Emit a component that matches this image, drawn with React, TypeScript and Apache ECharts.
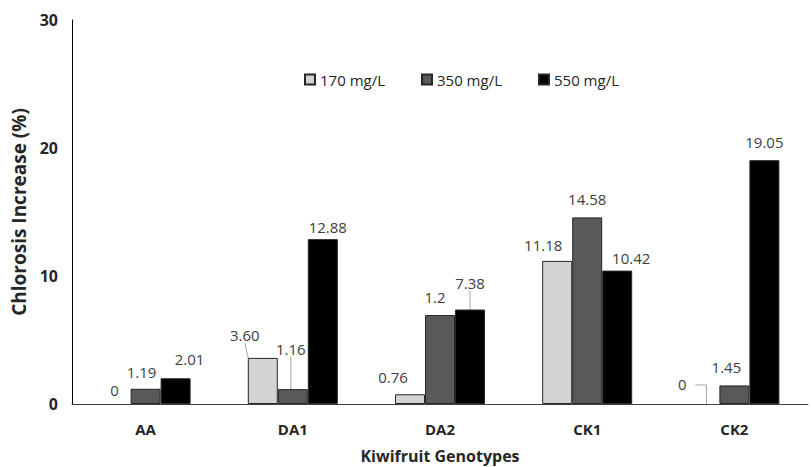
import React, { useEffect, useRef } from "react";
import * as echarts from "echarts";

const categories = ["AA", "DA1", "DA2", "CK1", "CK2"];
const seriesNames = ["170 mg/L", "350 mg/L", "550 mg/L"];
const values170 = [0, 3.6, 0.76, 11.18, 0];
const values350 = [1.19, 1.16, 6.95, 14.58, 1.45];
const values550 = [2.01, 12.88, 7.38, 10.42, 19.05];
const labels170 = ["0", "3.60", "0.76", "11.18", "0"];
const labels350 = ["1.19", "1.16", "1.2", "14.58", "1.45"];
const labels550 = ["2.01", "12.88", "7.38", "10.42", "19.05"];
const yTicks = [0, 10, 20, 30];

// label layout offsets [dx, dy, leaderLine]
const offsets: [number, number, boolean][][] = [
  [[-1, -2, false], [-18, -10, true], [-17, -5, false], [-14, -3, false], [-22, -8, false]],
  [[-4, -4, false], [-2, -28, true], [-5, -6, false], [0, -6, false], [-8, -6, false]],
  [[14, -7, false], [5, 0, false], [0, -14, true], [14, 0, false], [0, -6, false]],
];

const colors = ["#d4d4d4", "#595959", "#000000"];
const allValues = [values170, values350, values550];
const allLabels = [labels170, labels350, labels550];

export default function App() {
  const ref = useRef<HTMLDivElement>(null);
  useEffect(() => {
    if (!ref.current) return;
    const chart = echarts.init(ref.current, undefined, { renderer: "svg" });
    const font = "'Open Sans', 'Noto Sans', sans-serif";
    const barWidth = 30;
    const series = allValues.map((vals, si) => ({
      name: seriesNames[si],
      type: "bar",
      barWidth,
      barGap: "0%",
      itemStyle: { color: colors[si], borderColor: "#262626", borderWidth: 1 },
      label: {
        show: true,
        position: "top",
        distance: 5,
        color: "#404040",
        fontSize: 15,
        fontFamily: font,
        formatter: (p: any) => allLabels[si][p.dataIndex],
      },
      labelLine: { show: false },
      labelLayout: (p: any) => {
        const o = offsets[si][p.dataIndex];
        return { dx: o[0], dy: o[1] };
      },
      data: vals.map((v, di) => ({
        value: v,
        itemStyle: v === 0 ? { borderWidth: 0 } : undefined,
        labelLine: {
          show: offsets[si][di][2],
          length2: 0,
          lineStyle: { color: "#a6a6a6", width: 1 },
        },
      })),
    }));
    chart.setOption({
      animation: false,
      backgroundColor: "#ffffff",
      legend: {
        left: 299,
        top: 67,
        itemWidth: 10,
        itemHeight: 10,
        itemGap: 36,
        icon: "rect",
        textStyle: { fontSize: 15, color: "#262626", fontFamily: font },
        data: seriesNames,
      },
      grid: { left: 72, right: 3, top: 20, bottom: 63, outerBoundsMode: "none", containLabel: false },
      xAxis: {
        type: "category",
        data: categories,
        name: "Kiwifruit Genotypes",
        nameLocation: "middle",
        nameGap: 44,
        nameTextStyle: { fontSize: 16, fontWeight: "bold", color: "#262626", fontFamily: font },
        axisLine: { lineStyle: { color: "#404040", width: 1 } },
        axisTick: { show: false },
        axisLabel: { margin: 17, fontSize: 15, fontWeight: "bold", color: "#262626", fontFamily: font },
      },
      yAxis: {
        type: "value",
        min: yTicks[0],
        max: yTicks[yTicks.length - 1],
        interval: 10,
        name: "Chlorosis Increase (%)",
        nameLocation: "middle",
        nameGap: 44,
        nameTextStyle: { fontSize: 19, fontWeight: "bold", color: "#262626", fontFamily: font },
        axisLine: { show: true, lineStyle: { color: "#000000", width: 1 } },
        axisTick: { show: false },
        splitLine: { show: false },
        axisLabel: { margin: 14, fontSize: 16, fontWeight: "bold", color: "#262626", fontFamily: font },
      },
      series,
    });
    // leader line for the zero-height CK2 170 mg/L bar
    const zeroIdx = 4;
    const p = chart.convertToPixel({ seriesIndex: 0 }, [zeroIdx, values170[zeroIdx]]) as number[];
    if (p) {
      const barCx = p[0] - barWidth;
      const y0 = p[1];
      chart.setOption({
        graphic: [
          {
            type: "polyline",
            shape: { points: [[barCx - 9, y0 - 19], [barCx + 2, y0 - 19], [barCx + 2, y0]] },
            style: { stroke: "#a6a6a6", lineWidth: 1, fill: "none" },
            silent: true,
          },
        ],
      });
    }
    return () => chart.dispose();
  }, []);
  return (
    <div
      ref={ref}
      style={{ position: "fixed", left: 0, top: 0, width: 811, height: 467, background: "#fff" }}
    />
  );
}
